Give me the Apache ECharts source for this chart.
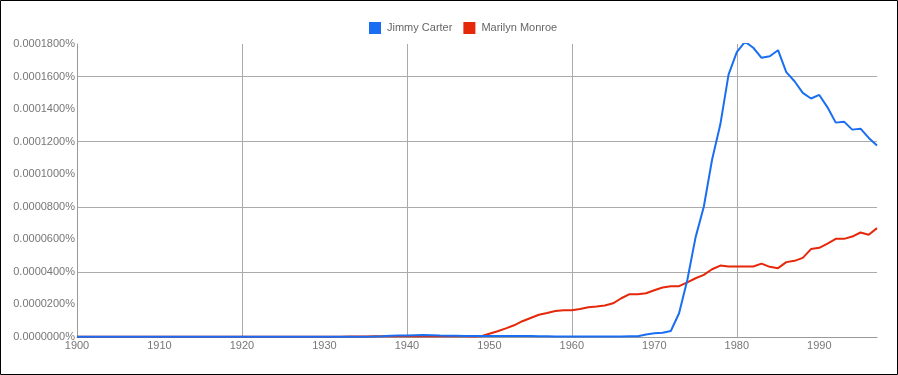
<!DOCTYPE html>
<html>
<head>
<meta charset="utf-8">
<script src="https://cdn.jsdelivr.net/npm/echarts@6/dist/echarts.min.js"></script>
<style>
html,body{margin:0;padding:0;background:#fff;}
#c{width:898px;height:375px;}
</style>
</head>
<body>
<div id="c"></div>
<script>
// Years 1900..1997
var startYear = 1900;
var endYear = 1997;
var seriesNames = ['Jimmy Carter', 'Marilyn Monroe'];

// values in percent
var carter = [
  // 1900-1909
  0.0000001,0.0000001,0.0000001,0.0000001,0.0000001,0.0000001,0.0000001,0.0000001,0.0000001,0.0000001,
  // 1910-1919
  0.0000001,0.0000001,0.0000001,0.0000001,0.0000001,0.0000001,0.0000001,0.0000001,0.0000001,0.0000001,
  // 1920-1929
  0.0000001,0.0000001,0.0000001,0.0000001,0.0000001,0.0000001,0.0000001,0.0000001,0.0000001,0.0000001,
  // 1930-1939
  0.0000001,0.0000001,0.0000001,0.0000001,0.0000002,0.0000002,0.0000003,0.0000005,0.0000008,0.0000009,
  // 1940-1949
  0.0000009,0.0000011,0.0000013,0.0000011,0.0000009,0.0000008,0.0000007,0.0000006,0.0000006,0.0000006,
  // 1950-1959
  0.0000006,0.0000006,0.0000006,0.0000006,0.0000006,0.0000006,0.0000005,0.0000004,0.0000003,0.0000003,
  // 1960-1969
  0.0000003,0.0000003,0.0000003,0.0000003,0.0000003,0.0000003,0.0000003,0.0000004,0.0000005,0.0000015,
  // 1970-1979
  0.0000023,0.0000026,0.0000037,0.0000146,0.0000350,0.0000612,0.0000800,0.0001089,0.0001305,0.0001612,
  // 1980-1989
  0.0001750,0.0001814,0.0001777,0.0001715,0.0001725,0.0001762,0.0001627,0.0001571,0.0001500,0.0001465,
  // 1990-1997
  0.0001487,0.0001411,0.0001317,0.0001323,0.0001274,0.0001280,0.0001223,0.0001177
];

var monroe = [
  // 1900-1909
  0.0000001,0.0000001,0.0000001,0.0000001,0.0000001,0.0000001,0.0000001,0.0000001,0.0000001,0.0000001,
  // 1910-1919
  0.0000001,0.0000001,0.0000001,0.0000001,0.0000001,0.0000001,0.0000002,0.0000002,0.0000002,0.0000002,
  // 1920-1929
  0.0000002,0.0000002,0.0000002,0.0000002,0.0000002,0.0000002,0.0000002,0.0000002,0.0000002,0.0000002,
  // 1930-1939
  0.0000002,0.0000002,0.0000002,0.0000003,0.0000003,0.0000003,0.0000004,0.0000004,0.0000005,0.0000005,
  // 1940-1949
  0.0000005,0.0000005,0.0000006,0.0000005,0.0000005,0.0000005,0.0000004,0.0000004,0.0000003,0.0000005,
  // 1950-1959
  0.0000020,0.0000035,0.0000053,0.0000072,0.0000097,0.0000117,0.0000137,0.0000148,0.0000160,0.0000164,
  // 1960-1969
  0.0000164,0.0000172,0.0000183,0.0000187,0.0000193,0.0000207,0.0000238,0.0000263,0.0000263,0.0000269,
  // 1970-1979
  0.0000287,0.0000304,0.0000312,0.0000312,0.0000336,0.0000361,0.0000382,0.0000416,0.0000439,0.0000433,
  // 1980-1989
  0.0000433,0.0000433,0.0000433,0.0000451,0.0000431,0.0000423,0.0000460,0.0000468,0.0000486,0.0000540,
  // 1990-1997
  0.0000548,0.0000574,0.0000603,0.0000603,0.0000617,0.0000642,0.0000628,0.0000669
];

var yearTickStep = 10;
var valueTickStep = 0.00002;
var valueMax = 0.00018;

function pairs(vals) {
  var out = [];
  for (var i = 0; i < vals.length; i++) out.push([startYear + i, vals[i]]);
  return out;
}

var gridColor = '#aaaaaa';
var none = 'rgba(0,0,0,0)';
var font = "'Liberation Sans', Arial, Helvetica, sans-serif";

var chart = echarts.init(document.getElementById('c'), null, {renderer: 'canvas'});
chart.setOption({
  animation: false,
  backgroundColor: '#ffffff',
  textStyle: {fontFamily: font},
  graphic: [{
    type: 'rect', silent: true, z: 100,
    shape: {x: 0.5, y: 0.5, width: 897, height: 374},
    style: {fill: null, stroke: '#000000', lineWidth: 1}
  }],
  legend: {
    data: seriesNames,
    left: 369, top: 22,
    icon: 'rect',
    itemWidth: 12, itemHeight: 12,
    itemGap: 11,
    padding: 0,
    textStyle: {color: '#666666', fontSize: 11, fontFamily: font, padding: [0, 0, 0, 1]}
  },
  grid: {left: 77, right: 21, top: 44, bottom: 38, containLabel: false},
  xAxis: {
    type: 'value',
    min: startYear, max: endYear,
    interval: yearTickStep,
    axisLine: {show: true, lineStyle: {color: '#999999', width: 1}},
    axisTick: {show: false},
    axisLabel: {color: '#777777', fontSize: 11, fontFamily: font, margin: 3, showMaxLabel: false,
      formatter: function (v) { return String(v); }},
    splitLine: {show: true, lineStyle: {width: 1,
      color: [gridColor, none, gridColor, none, gridColor, none, gridColor, none, gridColor, none, none, none]}}
  },
  yAxis: {
    type: 'value',
    min: 0, max: valueMax,
    interval: valueTickStep,
    axisLine: {show: true, lineStyle: {color: '#999999', width: 1}},
    axisTick: {show: false},
    axisLabel: {color: '#777777', fontSize: 11, fontFamily: font, margin: 2,
      formatter: function (v) { return v.toFixed(7) + '%'; }},
    splitLine: {show: true, lineStyle: {width: 1,
      color: [none, none, gridColor, none, gridColor, none, gridColor, none, gridColor, none, none]}}
  },
  series: [
    {
      name: seriesNames[0], type: 'line', data: pairs(carter),
      showSymbol: false, symbol: 'none',
      itemStyle: {color: '#1a6ef2'},
      lineStyle: {color: '#1a6ef2', width: 2},
      z: 3
    },
    {
      name: seriesNames[1], type: 'line', data: pairs(monroe),
      showSymbol: false, symbol: 'none',
      itemStyle: {color: '#e5270a'},
      lineStyle: {color: '#e5270a', width: 2},
      z: 2
    }
  ]
});
</script>
</body>
</html>
